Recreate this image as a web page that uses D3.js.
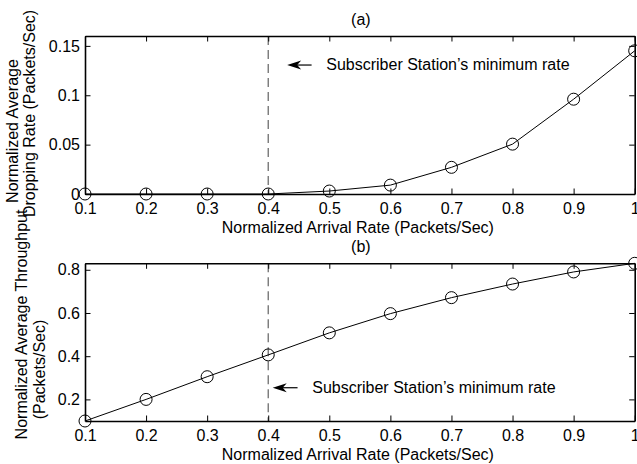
<!DOCTYPE html>
<html>
<head>
<meta charset="utf-8">
<script src="https://cdn.jsdelivr.net/npm/d3@7"></script>
<style>
  html, body { margin: 0; padding: 0; background: #fff; }
  svg { display: block; }
  text { font-family: "Liberation Sans", Arial, Helvetica, sans-serif; font-size: 16px; fill: #000; }
</style>
</head>
<body>
<script>
// ---- data ----
const arrivalRate = [0.1, 0.2, 0.3, 0.4, 0.5, 0.6, 0.7, 0.8, 0.9, 1.0];
const droppingRate = [0, 0, 0, 0, 0.003, 0.009, 0.027, 0.0505, 0.096, 0.145];
const throughput = [0.1, 0.2, 0.305, 0.406, 0.508, 0.597, 0.671, 0.734, 0.79, 0.83];
const xTicks = [0.1, 0.2, 0.3, 0.4, 0.5, 0.6, 0.7, 0.8, 0.9, 1.0];
const xTickLabels = ["0.1", "0.2", "0.3", "0.4", "0.5", "0.6", "0.7", "0.8", "0.9", "1"];
const yTicksA = [0, 0.05, 0.1, 0.15];
const yTickLabelsA = ["0", "0.05", "0.1", "0.15"];
const yTicksB = [0.2, 0.4, 0.6, 0.8];
const yTickLabelsB = ["0.2", "0.4", "0.6", "0.8"];
const minRate = 0.4;
const xTitle = "Normalized Arrival Rate (Packets/Sec)";
const annotation = "Subscriber Station\u2019s minimum rate";

const W = 637, H = 464;
const svg = d3.select("body").append("svg").attr("width", W).attr("height", H);

const x = d3.scaleLinear().domain([0.1, 1.0]).range([85, 634.7]);

function panel(cfg) {
  const y = d3.scaleLinear().domain(cfg.yDomain).range([cfg.bottom, cfg.top]);
  const g = svg.append("g");

  // dashed min-rate line
  g.append("line")
    .attr("x1", x(minRate)).attr("x2", x(minRate))
    .attr("y1", y(cfg.yDomain[1])).attr("y2", y(cfg.yDomain[0]))
    .attr("stroke", "#6e6e6e").attr("stroke-width", 1.3)
    .attr("stroke-dasharray", "9,5");

  // data line
  g.append("path")
    .datum(arrivalRate.map((d, i) => [d, cfg.values[i]]))
    .attr("fill", "none").attr("stroke", "#000").attr("stroke-width", 1)
    .attr("d", d3.line().x(d => x(d[0])).y(d => y(d[1])));

  g.selectAll("circle.m").data(arrivalRate.map((d, i) => [d, cfg.values[i]]))
    .enter().append("circle")
    .attr("cx", d => x(d[0])).attr("cy", d => y(d[1])).attr("r", 6)
    .attr("fill", "none").attr("stroke", "#000").attr("stroke-width", 1);

  // axes (ticks inward on all sides)
  const tk = 5.5;
  const ax = [
    g.append("g").attr("transform", `translate(0,${cfg.bottom})`)
      .call(d3.axisBottom(x).tickValues(xTicks).tickSizeInner(-tk).tickSizeOuter(0).tickPadding(8.6)
        .tickFormat((d, i) => xTickLabels[i])),
    g.append("g").attr("transform", `translate(0,${cfg.top})`)
      .call(d3.axisTop(x).tickValues(xTicks).tickSizeInner(-tk).tickSizeOuter(0).tickFormat("")),
    g.append("g").attr("transform", `translate(${x.range()[0]},0)`)
      .call(d3.axisLeft(y).tickValues(cfg.yTicks).tickSizeInner(-tk).tickSizeOuter(0).tickPadding(5)
        .tickFormat((d, i) => cfg.yLabels[i])),
    g.append("g").attr("transform", `translate(${x.range()[1]},0)`)
      .call(d3.axisRight(y).tickValues(cfg.yTicks).tickSizeInner(-tk).tickSizeOuter(0).tickFormat(""))
  ];
  ax.forEach(a => {
    a.selectAll(".domain").attr("stroke", "#000").attr("stroke-width", 1.6);
    a.selectAll(".tick line").attr("stroke", "#000").attr("stroke-width", 1);
    a.selectAll(".tick text").attr("font-size", 16).attr("font-family", null).attr("fill", "#000");
  });

  // annotation arrow
  const ty = y(cfg.arrowY), tipX = x(cfg.arrowTip), tailX = x(cfg.arrowTail);
  g.append("line").attr("x1", tipX + 8).attr("x2", tailX).attr("y1", ty).attr("y2", ty)
    .attr("stroke", "#000").attr("stroke-width", 1.2);
  g.append("path")
    .attr("d", `M${tipX},${ty} L${tipX + 14},${ty - 4.5} L${tipX + 10},${ty} L${tipX + 14},${ty + 4.5} Z`)
    .attr("fill", "#000");
  g.append("text").attr("x", x(cfg.textX)).attr("y", y(cfg.textY)).text(annotation);

  // title and x-axis title
  const cx = (x.range()[0] + x.range()[1]) / 2;
  g.append("text").attr("x", cx + 1).attr("y", cfg.top - 11).attr("text-anchor", "middle").text(cfg.title);
  g.append("text").attr("x", cx - 2).attr("y", cfg.bottom + 38.5).attr("text-anchor", "middle").text(xTitle);

  // y-axis title lines
  cfg.yTitle.forEach(t => {
    g.append("text")
      .attr("transform", `translate(${t.bx},${t.cy}) rotate(-90)`)
      .attr("text-anchor", "middle").text(t.s);
  });
}

panel({
  top: 36, bottom: 194, yDomain: [0, 0.16], values: droppingRate,
  yTicks: yTicksA, yLabels: yTickLabelsA, title: "(a)",
  arrowY: 0.1306, arrowTip: 0.431, arrowTail: 0.471, textX: 0.495, textY: 0.1256,
  yTitle: [{ s: "Normalized Average", bx: 18, cy: 131 }, { s: "Dropping Rate (Packets/Sec)", bx: 35, cy: 113.5 }]
});

panel({
  top: 263.3, bottom: 421, yDomain: [0.1, 0.83], values: throughput,
  yTicks: yTicksB, yLabels: yTickLabelsB, title: "(b)",
  arrowY: 0.254, arrowTip: 0.4073, arrowTail: 0.448, textX: 0.472, textY: 0.2296,
  yTitle: [{ s: "Normalized Average Throughput", bx: 27, cy: 324.5 }, { s: "(Packets/Sec)", bx: 45, cy: 369.5 }]
});
</script>
</body>
</html>
